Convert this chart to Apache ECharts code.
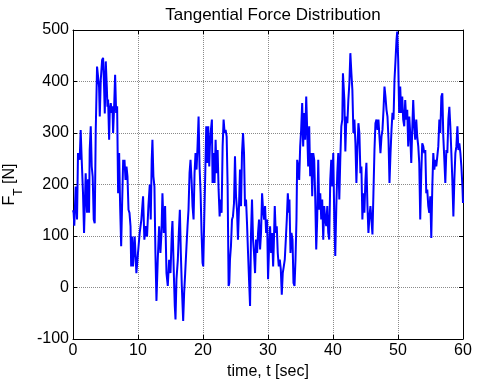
<!DOCTYPE html>
<html>
<head>
<meta charset="utf-8">
<script src="https://cdn.jsdelivr.net/npm/echarts@6/dist/echarts.min.js"></script>
<style>
html,body{margin:0;padding:0;background:#fff;}
#chart{width:478px;height:383px;}
</style>
</head>
<body>
<div id="chart"></div>
<script>
const titleText = "Tangential Force Distribution";
const xLabel = "time, t [sec]";
const xTicks = [0, 10, 20, 30, 40, 50, 60];
const yTicks = [-100, 0, 100, 200, 300, 400, 500];

const time = [
0,0.1,0.2,0.41,0.62,0.77,1.03,1.18,1.34,1.54,1.70,1.95,2.16,2.31,2.47,2.57,2.73,2.88,3.03,3.19,3.34,3.50,3.70,3.91,4.01,4.12,4.27,4.48,4.63,4.78,4.89,5.04,5.20,5.30,5.40,5.56,5.66,5.81,5.97,6.07,6.17,6.33,6.48,6.64,6.79,6.94,7.10,7.25,7.41,7.56,7.72,7.82,7.92,8.08,8.23,8.38,8.54,8.69,8.85,8.95,9.10,
9.23,9.49,9.75,10.0,10.26,10.52,10.78,10.98,11.19,11.39,11.6,11.81,11.96,12.11,12.22,12.37,12.53,12.68,12.84,13.04,13.25,13.45,13.61,13.76,13.97,14.17,14.38,14.58,14.79,15.0,15.2,15.3,15.51,15.66,15.77,15.92,16.13,16.28,16.44,16.59,16.74,16.95,17.1,17.26,17.46,17.62,17.77,17.93,18.08,18.24,18.39,18.55,18.7,18.85,19.01,19.16,19.32,19.47,19.63,19.78,19.93,20.04,
20.19,20.34,20.5,20.65,20.81,20.96,21.06,21.22,21.37,21.47,21.63,21.78,21.94,22.09,22.25,22.4,22.56,22.71,22.86,23.02,23.17,23.33,23.48,23.64,23.79,23.94,24.05,24.15,24.3,24.46,24.61,24.77,24.92,25.08,25.23,25.38,25.54,25.69,25.85,26.0,26.16,26.31,26.46,26.62,26.77,26.93,27.08,27.24,27.39,27.54,27.7,27.85,28.01,28.16,28.32,28.47,28.62,28.78,28.93,29.09,29.24,29.4,29.55,29.71,29.86,30.01,30.17,30.32,30.48,30.63,30.79,
30.89,31.04,31.19,31.35,31.5,31.66,31.81,31.97,32.12,32.27,32.43,32.58,32.74,32.89,33.05,33.2,33.3,33.46,33.61,33.77,33.92,34.08,34.23,34.38,34.49,34.64,34.8,34.95,35.1,35.26,35.41,35.57,35.72,35.88,36.03,36.18,36.34,36.49,36.65,36.8,36.96,37.11,37.26,37.42,37.57,37.73,37.88,38.04,38.19,38.34,38.5,38.65,38.81,38.96,39.12,39.27,39.42,39.58,39.73,39.89,40.04,40.2,40.35,40.51,40.66,40.81,40.97,41.12,41.28,41.43,41.53,
41.75,41.9,42.06,42.21,42.36,42.52,42.67,42.83,42.98,43.14,43.29,43.45,43.6,43.75,43.91,44.06,44.22,44.37,44.52,44.68,44.83,44.99,45.14,45.3,45.45,45.61,45.76,45.91,46.07,46.22,46.38,46.53,46.69,46.84,46.99,47.15,47.3,47.46,47.61,47.77,47.92,48.07,48.23,48.38,48.54,48.69,48.85,49.0,49.15,49.31,49.46,49.62,49.77,49.88,50.03,50.18,50.34,50.49,50.65,50.8,50.96,51.11,51.26,51.42,51.57,51.73,51.88,52.04,52.19,52.34,52.5,52.65,52.81,52.96,53.12,53.27,
53.42,53.58,53.73,53.89,54.04,54.2,54.35,54.5,54.66,54.81,54.97,55.12,55.28,55.43,55.59,55.74,55.89,56.05,56.2,56.36,56.51,56.67,56.82,56.97,57.13,57.28,57.44,57.59,57.75,57.9,58.05,58.21,58.36,58.52,58.67,58.83,58.98,59.14,59.29,59.44,59.6,59.75,59.91,60.0
];

const forceT = [
150,145,120,196,132,261,248,306,248,183,106,222,145,210,145,267,313,235,215,132,125,306,429,429,390,332,403,442,446,390,338,439,390,351,365,287,345,358,339,352,300,351,413,339,352,183,261,158,80,164,248,229,248,209,235,216,151,145,119,41,99,
41,99,28,67,106,132,177,93,119,99,158,200,132,248,287,216,196,67,-26,54,119,67,106,183,106,158,28,3,54,28,106,129,28,-36,-62,16,54,106,151,67,3,-65,-10,28,80,119,151,222,248,209,158,132,222,261,229,274,332,235,183,106,48,41,
132,216,313,242,313,235,274,306,326,203,261,203,287,222,267,190,138,171,145,274,326,300,306,293,196,3,9,54,80,132,138,164,255,177,151,93,158,229,158,261,300,261,158,171,125,67,16,-36,106,171,93,67,28,93,67,106,132,74,106,183,151,132,158,106,132,16,80,119,67,106,41,
80,158,106,119,67,41,54,35,-14,28,41,54,93,132,183,145,171,67,106,93,9,3,54,132,248,235,209,274,306,358,274,339,287,371,306,235,313,216,261,177,261,248,177,74,132,248,151,183,132,171,93,158,132,119,158,106,93,209,248,196,261,132,61,158,222,261,171,248,313,326,416,
364,264,332,319,364,397,455,416,384,300,326,280,203,267,319,300,222,235,132,183,145,209,242,158,106,138,158,132,103,183,267,319,326,306,326,326,261,293,306,345,390,371,345,332,287,203,261,306,339,326,403,442,481,497,442,339,390,339,371,326,313,364,326,345,274,332,300,242,306,364,313,287,326,293,274,242,
132,222,280,274,261,267,183,190,158,145,177,96,196,261,229,248,235,255,274,326,300,371,377,293,248,203,267,261,326,351,313,261,209,138,209,261,274,313,267,280,261,235,196,164
];

const seriesData = time.map((t, i) => [t, forceT[i]]);
const FONT = "'Liberation Sans', Arial, Helvetica, sans-serif";

const chart = echarts.init(document.getElementById('chart'), null, {renderer: 'canvas'});

chart.setOption({
  animation: false,
  backgroundColor: '#ffffff',
  title: {
    text: titleText,
    left: 268,
    top: 2,
    textAlign: 'center',
    textStyle: {fontFamily: FONT, fontSize: 17, fontWeight: 'normal', color: '#000'}
  },
  grid: {left: 73, top: 30, right: 15, bottom: 44, outerBoundsMode: 'none', containLabel: false},
  xAxis: [{
    type: 'value', position: 'bottom',
    min: xTicks[0], max: xTicks[xTicks.length - 1], interval: 10,
    name: xLabel, nameLocation: 'middle', nameGap: 25,
    nameTextStyle: {fontFamily: FONT, fontSize: 16, color: '#000'},
    axisLine: {show: true, onZero: false, lineStyle: {color: '#000', width: 1}},
    axisTick: {show: true, inside: true, length: 4, lineStyle: {color: '#000'}},
    axisLabel: {show: true, margin: 4, fontFamily: FONT, fontSize: 16, color: '#000'},
    splitLine: {show: true, lineStyle: {color: '#8a8a8a', width: 1, type: [1, 1]}}
  }, {
    type: 'value', position: 'top',
    min: xTicks[0], max: xTicks[xTicks.length - 1], interval: 10,
    axisLine: {show: true, onZero: false, lineStyle: {color: '#000', width: 1}},
    axisTick: {show: true, inside: true, length: 4, lineStyle: {color: '#000'}},
    axisLabel: {show: false},
    splitLine: {show: false}
  }],
  yAxis: [{
    type: 'value', position: 'left',
    min: yTicks[0], max: yTicks[yTicks.length - 1], interval: 100,
    name: '{a|F}{b|T}{a| [N]}', nameLocation: 'middle', nameGap: 48, nameRotate: 90,
    nameTextStyle: {
      fontFamily: FONT, fontSize: 16, color: '#000',
      rich: {
        a: {fontFamily: FONT, fontSize: 16, color: '#000'},
        b: {fontFamily: FONT, fontSize: 12, color: '#000', padding: [18, 0, 0, 0]}
      }
    },
    axisLine: {show: true, onZero: false, lineStyle: {color: '#000', width: 1}},
    axisTick: {show: true, inside: true, length: 4, lineStyle: {color: '#000'}},
    axisLabel: {show: true, margin: 4, fontFamily: FONT, fontSize: 16, color: '#000'},
    splitLine: {show: true, lineStyle: {color: '#8a8a8a', width: 1, type: [1, 1]}}
  }, {
    type: 'value', position: 'right',
    min: yTicks[0], max: yTicks[yTicks.length - 1], interval: 100,
    axisLine: {show: true, onZero: false, lineStyle: {color: '#000', width: 1}},
    axisTick: {show: true, inside: true, length: 4, lineStyle: {color: '#000'}},
    axisLabel: {show: false},
    splitLine: {show: false}
  }],
  series: [{
    type: 'line',
    xAxisIndex: 0, yAxisIndex: 0,
    data: seriesData,
    showSymbol: false,
    symbol: 'none',
    lineStyle: {color: '#0000ff', width: 2},
    itemStyle: {color: '#0000ff'},
    clip: true,
    z: 5
  }]
});
</script>
</body>
</html>
